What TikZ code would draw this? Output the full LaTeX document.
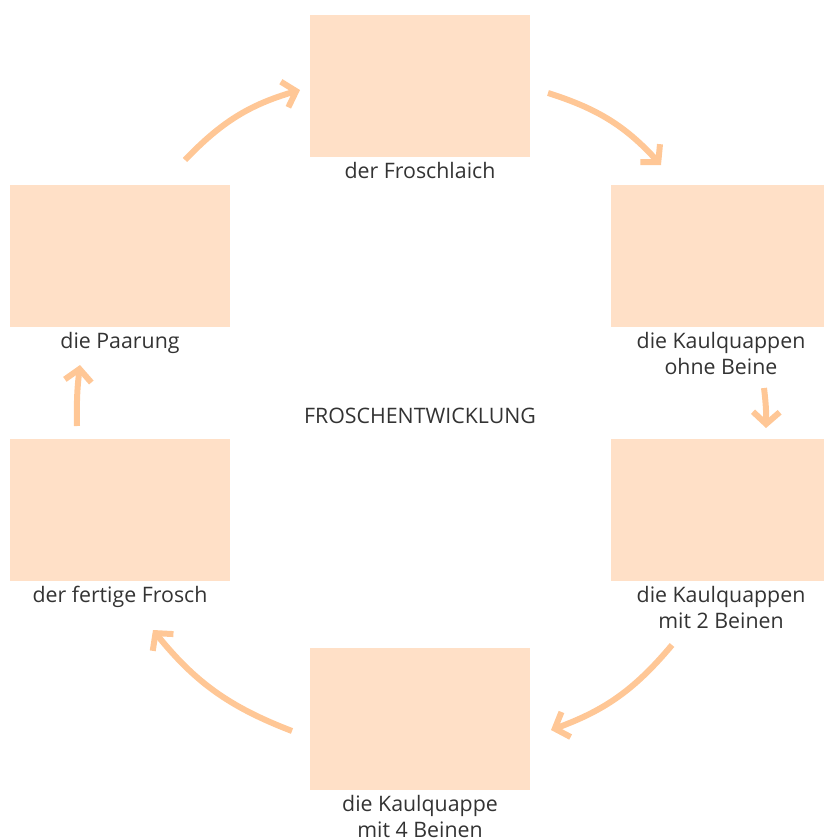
\documentclass[tikz,border=0pt]{standalone}
\usepackage{fontspec}
\setmainfont{Open Sans}
\usepackage{xcolor}
\usetikzlibrary{arrows.meta,positioning}
\definecolor{peach}{RGB}{255,224,199}
\definecolor{apricot}{RGB}{255,199,150}
\definecolor{inkgray}{RGB}{51,51,51}
\tikzstyle{stage} = [rectangle, fill=peach, minimum width=165pt, minimum height=106.5pt, inner sep=0pt]
\tikzstyle{caption} = [text=inkgray, font=\fontsize{16}{19.5}\selectfont, align=center, inner sep=0pt]
\tikzstyle{cycle} = [draw=apricot, line width=4.5pt, -{Straight Barb[length=9pt, width=20pt, line join=miter]}]

\begin{document}
\begin{tikzpicture}[x=0.75pt, y=-0.75pt]
        \useasboundingbox (0,0) rectangle (824,839);
        % the six stages
        \node [stage] (laich) at (420,86) {};
        \node [stage] (ohne) at (721,256) {};
        \node [stage] (zwei) at (721,510) {};
        \node [stage] (vier) at (420,719) {};
        \node [stage] (frosch) at (120,510) {};
        \node [stage] (paarung) at (120,256) {};

        \node [caption, below=3.5pt of laich] (tlaich) {der Froschlaich};
        \node [caption, below=3.5pt of ohne] (tohne) {die Kaulquappen\\ohne Beine};
        \node [caption, below=3.5pt of zwei] (tzwei) {die Kaulquappen\\mit 2 Beinen};
        \node [caption, below=3.5pt of vier] (tvier) {die Kaulquappe\\mit 4 Beinen};
        \node [caption, below=3.5pt of frosch] (tfrosch) {der fertige Frosch};
        \node [caption, below=3.5pt of paarung] (tpaarung) {die Paarung};

        \node [caption] (titel) at (420,416) {FROSCHENTWICKLUNG};

        % arrow ends
        \coordinate (p1) at (185,160);  \coordinate (q1) at (300,90);
        \coordinate (p2) at (548,93);   \coordinate (q2) at (661,165);
        \coordinate (p3) at (764,388);  \coordinate (q3) at (766,428);
        \coordinate (p4) at (672,645);  \coordinate (q4) at (551,730);
        \coordinate (p5) at (292,731);  \coordinate (q5) at (153,630);
        \coordinate (p6) at (77,426);   \coordinate (q6) at (80,365);

        \draw [cycle] (p1) to[bend left=15] (q1);
        \draw [cycle] (p2) to[bend left=15] (q2);
        \draw [cycle] (p3) to[bend left=4] (q3);
        \draw [cycle] (p4) to[bend left=15] (q4);
        \draw [cycle] (p5) to[bend left=15] (q5);
        \draw [cycle] (p6) to[bend left=4] (q6);
    \end{tikzpicture}
\end{document}
